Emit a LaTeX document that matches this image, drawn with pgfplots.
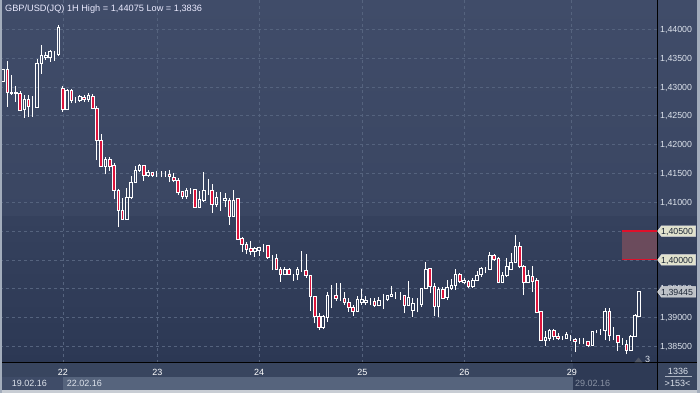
\documentclass[border=0pt]{standalone}
\usepackage{pgfplots}
\pgfplotsset{compat=1.18}
\usepackage{pgfplotstable}
\usepackage{fontspec}
\setmainfont{Liberation Sans}
\definecolor{bgtop}{HTML}{404C69}
\definecolor{bgmid1}{HTML}{3A4662}
\definecolor{bgmid2}{HTML}{35415D}
\definecolor{bgbot}{HTML}{2C3854}
\definecolor{gridc}{HTML}{55637E}
\definecolor{candred}{HTML}{DC143C}
\definecolor{txt}{HTML}{DDE3EC}
\definecolor{tagbeige}{HTML}{E1E2CD}
\definecolor{taggray}{HTML}{BEC2C8}
\definecolor{tagtext}{HTML}{1C2636}
\definecolor{zonefill}{HTML}{6B4B5C}
\definecolor{zonered}{HTML}{E0102A}
\definecolor{rowdate}{HTML}{38455F}
\definecolor{bandlight}{HTML}{56647D}
\definecolor{bandleft}{HTML}{3F4C68}
\definecolor{darkbox}{HTML}{2E3A55}
\definecolor{borderc}{HTML}{C8CDD4}
\definecolor{sideb}{HTML}{A3ADBC}
\definecolor{fadetxt}{HTML}{8A93A5}

\pgfplotstableread{
i o h l c
-1 1.43091 1.43306 1.43091 1.43306
0 1.43306 1.43450 1.42658 1.42907
1 1.42912 1.43207 1.42860 1.42895
2 1.42907 1.43017 1.42744 1.42878
3 1.42878 1.42930 1.42588 1.42600
4 1.42612 1.42855 1.42467 1.42791
5 1.42791 1.42855 1.42484 1.42658
6 1.42664 1.42843 1.42484 1.42664
7 1.42647 1.43485 1.42647 1.43410
8 1.43410 1.43728 1.43225 1.43537
9 1.43514 1.43601 1.43467 1.43537
10 1.43514 1.43641 1.43438 1.43611
11 1.43601 1.43629 1.43455 1.43601
12 1.43566 1.44074 1.43537 1.44035
13 1.42977 1.43017 1.42571 1.42612
14 1.42612 1.42965 1.42600 1.42947
15 1.42947 1.42965 1.42717 1.42762
16 1.42774 1.42821 1.42717 1.42774
17 1.42762 1.42860 1.42744 1.42831
18 1.42821 1.42860 1.42744 1.42786
19 1.42786 1.42890 1.42744 1.42855
20 1.42843 1.42878 1.42612 1.42630
21 1.42630 1.42670 1.41733 1.42080
22 1.42080 1.42179 1.41617 1.41629
23 1.41629 1.41780 1.41485 1.41745
24 1.41745 1.41790 1.41548 1.41629
25 1.41641 1.41676 1.41052 1.41196
26 1.41213 1.41225 1.40566 1.40866
27 1.40866 1.41069 1.40693 1.40705
28 1.40705 1.41242 1.40693 1.41079
29 1.41086 1.41456 1.41052 1.41346
30 1.41346 1.41629 1.41339 1.41548
31 1.41548 1.41664 1.41530 1.41646
32 1.41634 1.41646 1.41374 1.41473
33 1.41461 1.41560 1.41444 1.41513
34 1.41520 1.41530 1.41444 1.41473
35 1.41490 1.41542 1.41444 1.41490
36 1.41503 1.41537 1.41444 1.41503
37 1.41485 1.41537 1.41444 1.41485
38 1.41485 1.41560 1.41346 1.41444
39 1.41433 1.41503 1.41346 1.41374
40 1.41386 1.41416 1.41126 1.41166
41 1.41190 1.41201 1.41062 1.41097
42 1.41097 1.41242 1.41062 1.41213
43 1.41213 1.41248 1.41144 1.41213
44 1.41225 1.41225 1.40913 1.40913
45 1.40913 1.41201 1.40913 1.41052
46 1.41039 1.41525 1.41010 1.41213
47 1.41201 1.41404 1.41126 1.41201
48 1.41196 1.41317 1.40819 1.40965
49 1.40965 1.41183 1.40923 1.41086
50 1.41079 1.41173 1.40854 1.41079
51 1.41039 1.41156 1.40923 1.41069
52 1.41039 1.41079 1.40606 1.40750
53 1.40750 1.41213 1.40750 1.41039
54 1.41057 1.41069 1.40346 1.40363
55 1.40375 1.40393 1.40143 1.40271
56 1.40276 1.40311 1.40103 1.40184
57 1.40190 1.40328 1.40086 1.40150
58 1.40155 1.40219 1.40056 1.40190
59 1.40167 1.40230 1.40068 1.40212
60 1.40212 1.40271 1.40138 1.40212
61 1.40247 1.40259 1.40034 1.40039
62 1.40039 1.40091 1.39825 1.40039
63 1.40028 1.40103 1.39825 1.39838
64 1.39843 1.39883 1.39622 1.39751
65 1.39756 1.39883 1.39739 1.39843
66 1.39838 1.39860 1.39739 1.39756
67 1.39756 1.39756 1.39640 1.39756
68 1.39756 1.39883 1.39652 1.39843
69 1.39843 1.40155 1.39796 1.39843
70 1.39825 1.40103 1.39692 1.39727
71 1.39727 1.39739 1.39120 1.39362
72 1.39362 1.39380 1.38901 1.39016
73 1.39028 1.39085 1.38785 1.38825
74 1.38825 1.39045 1.38797 1.39016
75 1.39002 1.39444 1.38929 1.39392
76 1.39380 1.39565 1.39161 1.39380
77 1.39375 1.39595 1.39288 1.39335
78 1.39335 1.39595 1.39288 1.39335
79 1.39335 1.39449 1.39218 1.39258
80 1.39258 1.39335 1.39102 1.39179
81 1.39179 1.39218 1.39033 1.39114
82 1.39114 1.39375 1.39092 1.39322
83 1.39265 1.39496 1.39218 1.39322
84 1.39258 1.39375 1.39218 1.39300
85 1.39293 1.39345 1.39218 1.39293
86 1.39288 1.39345 1.39189 1.39213
87 1.39213 1.39362 1.39201 1.39305
88 1.39305 1.39404 1.39149 1.39305
89 1.39322 1.39392 1.39288 1.39375
90 1.39362 1.39548 1.39362 1.39409
91 1.39397 1.39439 1.39322 1.39397
92 1.39392 1.39449 1.39305 1.39392
93 1.39375 1.39392 1.39074 1.39218
94 1.39218 1.39635 1.39201 1.39345
95 1.39120 1.39335 1.39016 1.39248
96 1.39258 1.39345 1.39092 1.39258
97 1.39236 1.39508 1.39189 1.39508
98 1.39508 1.39969 1.39496 1.39838
99 1.39855 1.39865 1.39421 1.39536
100 1.39536 1.39595 1.39033 1.39201
101 1.39201 1.39536 1.39005 1.39491
102 1.39491 1.39536 1.39322 1.39335
103 1.39352 1.39652 1.39305 1.39525
104 1.39508 1.39669 1.39479 1.39565
105 1.39553 1.39838 1.39479 1.39751
106 1.39751 1.39768 1.39612 1.39622
107 1.39612 1.39682 1.39577 1.39652
108 1.39635 1.39652 1.39508 1.39548
109 1.39536 1.39692 1.39518 1.39652
110 1.39652 1.39808 1.39635 1.39739
111 1.39751 1.39883 1.39709 1.39855
112 1.39865 1.39883 1.39768 1.39865
113 1.39843 1.40132 1.39825 1.40073
114 1.40073 1.40098 1.39982 1.40016
115 1.40028 1.40056 1.39595 1.39612
116 1.39612 1.39786 1.39595 1.39739
117 1.39739 1.40039 1.39699 1.39883
118 1.39843 1.40115 1.39825 1.39959
119 1.39959 1.40432 1.39942 1.40230
120 1.40230 1.40316 1.39855 1.39883
121 1.39883 1.39912 1.39392 1.39612
122 1.39612 1.39825 1.39595 1.39739
123 1.39709 1.39900 1.39449 1.39622
124 1.39652 1.39682 1.39074 1.39092
125 1.39102 1.39114 1.38599 1.38611
126 1.38611 1.38768 1.38513 1.38658
127 1.38641 1.38802 1.38599 1.38768
128 1.38768 1.38802 1.38611 1.38669
129 1.38681 1.38728 1.38611 1.38641
130 1.38641 1.38686 1.38611 1.38641
131 1.38641 1.38745 1.38629 1.38715
132 1.38641 1.38698 1.38594 1.38641
133 1.38629 1.38651 1.38409 1.38582
134 1.38594 1.38651 1.38537 1.38594
135 1.38582 1.38641 1.38537 1.38582
136 1.38594 1.38594 1.38485 1.38513
137 1.38513 1.38768 1.38513 1.38755
138 1.38768 1.38785 1.38728 1.38768
139 1.38768 1.38802 1.38698 1.38768
140 1.38768 1.39161 1.38611 1.39114
141 1.39114 1.39172 1.38594 1.38698
142 1.38698 1.38842 1.38611 1.38698
143 1.38686 1.38698 1.38421 1.38572
144 1.38572 1.38641 1.38525 1.38572
145 1.38542 1.38611 1.38363 1.38438
146 1.38426 1.38698 1.38426 1.38681
147 1.38681 1.39057 1.38669 1.39033
148 1.39028 1.39461 1.39016 1.39449
}\candles

\pgfplotsset{
  chartframe/.style={
    scale only axis, width=657bp, height=363bp,
    at={(0bp,30bp)}, anchor=south west,
    xmin=-1.71, xmax=152.15, ymin=1.38213, ymax=1.44508,
  },
}

\begin{document}
\begin{tikzpicture}
\path[use as bounding box] (0,0) rectangle (700bp,393bp);
% background of plot and right scale panel (two-part gradient)
\shade[top color=bgtop, bottom color=bgmid1] (0,176bp) rectangle (700bp,393bp);
\shade[top color=bgmid2, bottom color=bgbot] (0,30bp) rectangle (700bp,176bp);
% bottom panels
\fill[rowdate] (0,16bp) rectangle (657bp,30bp);
\fill[bandleft] (0,3bp) rectangle (63bp,16bp);
\fill[bandlight] (63bp,3bp) rectangle (572.7bp,16bp);
\fill[darkbox] (572.7bp,3bp) rectangle (657bp,30bp);
\fill[rowdate] (657bp,3bp) rectangle (700bp,30bp);

\begin{axis}[chartframe,
  clip mode=individual,
  axis line style={draw=none}, major tick length=0pt,
  xtick={13.04,35.13,59.0,83.14,107.03,132.2},
  xticklabels={22,23,24,25,26,29},
  xticklabel style={font=\fontsize{9bp}{10bp}\selectfont, text=white, anchor=base, inner sep=0pt, yshift=-12bp},
  ytick={1.385,1.390,1.395,1.400,1.405,1.410,1.415,1.420,1.425,1.430,1.435,1.440},
  yticklabel pos=right,
  yticklabel={\pgfmathprintnumber[fixed,fixed zerofill,precision=5,use comma,assume math mode=true]{\tick}},
  yticklabel style={font=\fontsize{8.8bp}{10bp}\selectfont, text=txt, anchor=base west, inner sep=0pt, xshift=3bp, yshift=-3.2bp},
  grid=major,
  major grid style={gridc, dash pattern=on 3bp off 3bp, line width=0.8bp},
]
% upper wicks
\addplot[white, line width=1bp, quiver={u=0, v={\thisrow{h}-max(\thisrow{o},\thisrow{c})}}]
  table[x=i, y expr={max(\thisrow{o},\thisrow{c})}] {\candles};
% lower wicks
\addplot[white, line width=1bp, quiver={u=0, v={min(\thisrow{o},\thisrow{c})-\thisrow{l}}}]
  table[x=i, y=l] {\candles};
\end{axis}

\begin{axis}[chartframe, axis lines=none, ticks=none, ybar stacked, bar width=2.6bp]
\addplot[draw=none, fill=none] table[x=i, y expr={min(\thisrow{o},\thisrow{c})}] {\candles};
\addplot[draw=white, line width=1bp, fill=none] table[x=i, y expr={max(\thisrow{c}-\thisrow{o},0)}] {\candles};
\addplot[draw=white, line width=1bp, fill=candred] table[x=i, y expr={max(\thisrow{o}-\thisrow{c},0)}] {\candles};
\end{axis}

% alert zone 1.400-1.405
\fill[zonefill] (622.3bp,133.1bp) rectangle (657bp,161.9bp);
\draw[zonered, line width=1.2bp] (622.3bp,161.9bp) -- (657bp,161.9bp);
\draw[zonered, line width=1.2bp] (622.3bp,133.1bp) -- (657bp,133.1bp);

% frame lines
\draw[black, line width=1bp] (0,30bp) -- (700bp,30bp);
\draw[black, line width=1bp] (657bp,3bp) -- (657bp,393bp);
\fill[borderc] (0,0) rectangle (700bp,3bp);
\fill[sideb] (0,0) rectangle (2.3bp,393bp);
\fill[sideb] (697.3bp,0) rectangle (700bp,393bp);

% price tags
\foreach \cy/\fc/\tx in {161.9/tagbeige/{1,40500}, 133.1/tagbeige/{1,40000}, 101.1/taggray/{1,39445}} {
  \filldraw[fill=\fc, draw=white!80!gray, line width=0.5bp]
    (657.6bp,\cy bp) -- (661.5bp,\cy bp+5.3bp) -- (695.5bp,\cy bp+5.3bp) -- (695.5bp,\cy bp-5.3bp) -- (661.5bp,\cy bp-5.3bp) -- cycle;
  \node[anchor=base west, inner sep=0pt, font=\fontsize{8.8bp}{10bp}\selectfont, text=tagtext] at (661bp,\cy bp-3.2bp) {\tx};
}

% title and other texts
\node[anchor=base west, inner sep=0pt, font=\fontsize{9.2bp}{11bp}\selectfont, text=white!92!blue] at (5bp,381.7bp) {GBP/USD(JQ) 1H High = 1,44075 Low = 1,3836};
\node[anchor=base west, inner sep=0pt, font=\fontsize{9bp}{10bp}\selectfont, text=txt] at (11.7bp,7bp) {19.02.16};
\node[anchor=base west, inner sep=0pt, font=\fontsize{9bp}{10bp}\selectfont, text=txt] at (66.7bp,7bp) {22.02.16};
\node[anchor=base west, inner sep=0pt, font=\fontsize{9bp}{10bp}\selectfont, text=fadetxt] at (575bp,7bp) {29.02.16};
\node[anchor=base, inner sep=0pt, font=\fontsize{9bp}{10bp}\selectfont, text=txt] at (678bp,18.7bp) {1336};
\draw[txt!70!rowdate, line width=0.6bp] (665bp,16.3bp) -- (692bp,16.3bp);
\node[anchor=base, inner sep=0pt, font=\fontsize{9bp}{10bp}\selectfont, text=txt] at (677.5bp,6.3bp) {>153<};
\node[anchor=base west, inner sep=0pt, font=\fontsize{9bp}{10bp}\selectfont, text=txt] at (645bp,31bp) {3};
\fill[gray!40!bgbot] (634.3bp,30.5bp) -- (642.7bp,30.5bp) -- (638.5bp,35.5bp) -- cycle;
\end{tikzpicture}
\end{document}
